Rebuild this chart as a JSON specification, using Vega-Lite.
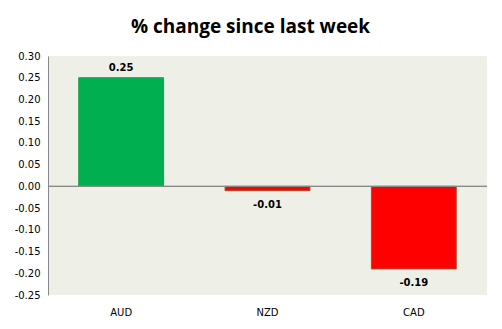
{
  "$schema": "https://vega.github.io/schema/vega-lite/v6.json",
  "autosize": "none",
  "width": 439,
  "height": 239,
  "padding": {"left": 48, "top": 56, "right": 15, "bottom": 34},
  "background": "white",
  "title": {
    "text": "% change since last week",
    "font": "Open Sans",
    "fontSize": 19,
    "fontWeight": "bold",
    "color": "black",
    "anchor": "middle",
    "dx": -17,
    "offset": 14
  },
  "config": {
    "view": {"fill": "#EEF0E8", "stroke": null},
    "axis": {"labelFont": "DejaVu Sans", "labelFontSize": 10, "labelColor": "black", "grid": false}
  },
  "data": {
    "values": [
      {"currency": "AUD", "change": 0.25},
      {"currency": "NZD", "change": -0.01},
      {"currency": "CAD", "change": -0.19}
    ]
  },
  "transform": [
    {"calculate": "replace(format(datum.change, '.2f'), '\u2212', '-')", "as": "label"}
  ],
  "encoding": {
    "x": {
      "field": "currency", "type": "nominal", "sort": null,
      "scale": {"paddingInner": 0.42, "paddingOuter": 0.21},
      "axis": {"title": null, "labelAngle": 0, "domain": false, "ticks": false, "labelPadding": 12}
    },
    "y": {
      "field": "change", "type": "quantitative",
      "scale": {"domain": [-0.25, 0.3], "nice": false, "zero": true},
      "axis": {"title": null, "values": [-0.25, -0.2, -0.15, -0.1, -0.05, 0, 0.05, 0.1, 0.15, 0.2, 0.25, 0.3], "format": ".2f", "labelExpr": "replace(datum.label, '\u2212', '-')", "domainColor": "#888888", "ticks": false, "labelPadding": 8}
    }
  },
  "layer": [
    {
      "mark": {"type": "bar", "strokeWidth": 1},
      "encoding": {
        "color": {
          "condition": {"test": "datum.change >= 0", "value": "#00B050"},
          "value": "#FF0000"
        },
        "stroke": {
          "condition": {"test": "datum.change >= 0", "value": "#1E9E4A"},
          "value": "#A0522D"
        }
      }
    },
    {
      "mark": {"type": "rule", "color": "#888888", "strokeWidth": 1},
      "encoding": {"y": {"datum": 0}, "x": null}
    },
    {
      "transform": [{"filter": "datum.change >= 0"}],
      "mark": {"type": "text", "font": "DejaVu Sans", "fontWeight": "bold", "fontSize": 10, "color": "black", "baseline": "bottom", "dy": -5},
      "encoding": {"text": {"field": "label", "type": "nominal"}}
    },
    {
      "transform": [{"filter": "datum.change < 0"}],
      "mark": {"type": "text", "font": "DejaVu Sans", "fontWeight": "bold", "fontSize": 10, "color": "black", "baseline": "top", "dy": 9},
      "encoding": {"text": {"field": "label", "type": "nominal"}}
    }
  ]
}
